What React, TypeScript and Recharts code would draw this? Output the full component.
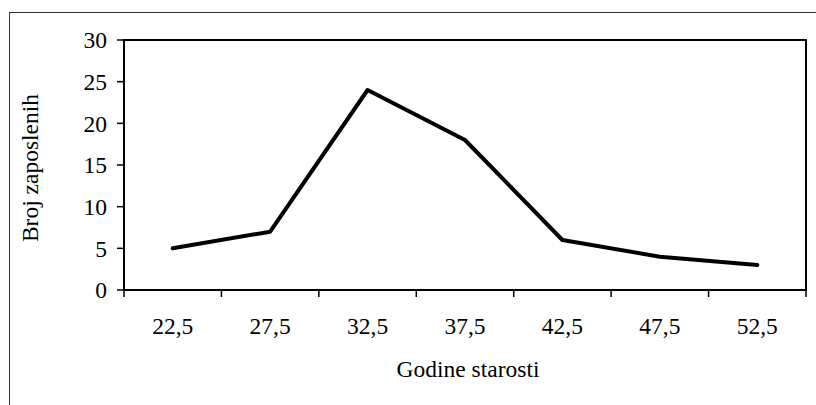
import React from 'react';
import { LineChart, Line, XAxis, YAxis, ReferenceArea, Label } from 'recharts';

const ages = [22.5, 27.5, 32.5, 37.5, 42.5, 47.5, 52.5];
const counts = [5, 7, 24, 18, 6, 4, 3];
const boundaryTicks = [20, 25, 30, 35, 40, 45, 50, 55];
const yTicks = [0, 5, 10, 15, 20, 25, 30];
const xTitle = 'Godine starosti';
const yTitle = 'Broj zaposlenih';

const data = ages.map((a, i) => ({ age: a, count: counts[i] }));

const FONT = 'Liberation Serif';
const FS = 23.5;

export default function App() {
  return (
    <div style={{ position: 'absolute', left: 0, top: 0, width: 816, height: 405, overflow: 'hidden', background: '#fff' }}>
      <div style={{ position: 'absolute', left: 9, top: 12, width: 900, height: 500, border: '1.5px solid #333', boxSizing: 'border-box' }} />
      <div style={{ position: 'absolute', left: 0, top: 0 }}>
        <LineChart width={816} height={405} data={data} margin={{ top: 40, right: 10, bottom: 0, left: 0 }}>
          <XAxis
            xAxisId="grid"
            dataKey="age"
            type="number"
            domain={[20, 55]}
            ticks={boundaryTicks}
            tickFormatter={() => ''}
            tickSize={7}
            height={8}
            axisLine={{ stroke: '#000', strokeWidth: 2 }}
            tickLine={{ stroke: '#000', strokeWidth: 1.5 }}
            allowDataOverflow
          />
          <XAxis
            xAxisId="labels"
            dataKey="age"
            type="number"
            domain={[20, 55]}
            ticks={ages}
            tickFormatter={(v: number) => String(v).replace('.', ',')}
            tickLine={false}
            axisLine={false}
            tickSize={0}
            tickMargin={19}
            height={107}
            tick={{ fill: '#000', fontFamily: FONT, fontSize: FS }}
          >
            <Label
              content={({ viewBox }: any) => (
                <text x={viewBox.x + viewBox.width / 2 + 3} y={viewBox.y + 79} textAnchor="middle" fontFamily={FONT} fontSize={FS} fill="#000">
                  {xTitle}
                </text>
              )}
            />
          </XAxis>
          <YAxis
            domain={[0, 30]}
            ticks={yTicks}
            width={124}
            tickSize={7}
            tickMargin={10}
            axisLine={{ stroke: '#000', strokeWidth: 2 }}
            tickLine={{ stroke: '#000', strokeWidth: 1.5 }}
            tick={{ fill: '#000', fontFamily: FONT, fontSize: FS }}
          >
            <Label
              content={({ viewBox }: any) => {
                const cx = viewBox.x + 38;
                const cy = viewBox.y + viewBox.height / 2 + 3;
                return (
                  <text x={cx} y={cy} transform={`rotate(-90, ${cx}, ${cy})`} textAnchor="middle" fontFamily={FONT} fontSize={FS} fill="#000">
                    {yTitle}
                  </text>
                );
              }}
            />
          </YAxis>
          <ReferenceArea xAxisId="grid" x1={20} x2={55} y1={0} y2={30} fill="none" stroke="#000" strokeWidth={2} ifOverflow="visible" />
          <Line
            xAxisId="grid"
            dataKey="count"
            stroke="#000"
            strokeWidth={4}
            strokeLinecap="round"
            strokeLinejoin="round"
            dot={false}
            type="linear"
            isAnimationActive={false}
          />
        </LineChart>
      </div>
    </div>
  );
}
